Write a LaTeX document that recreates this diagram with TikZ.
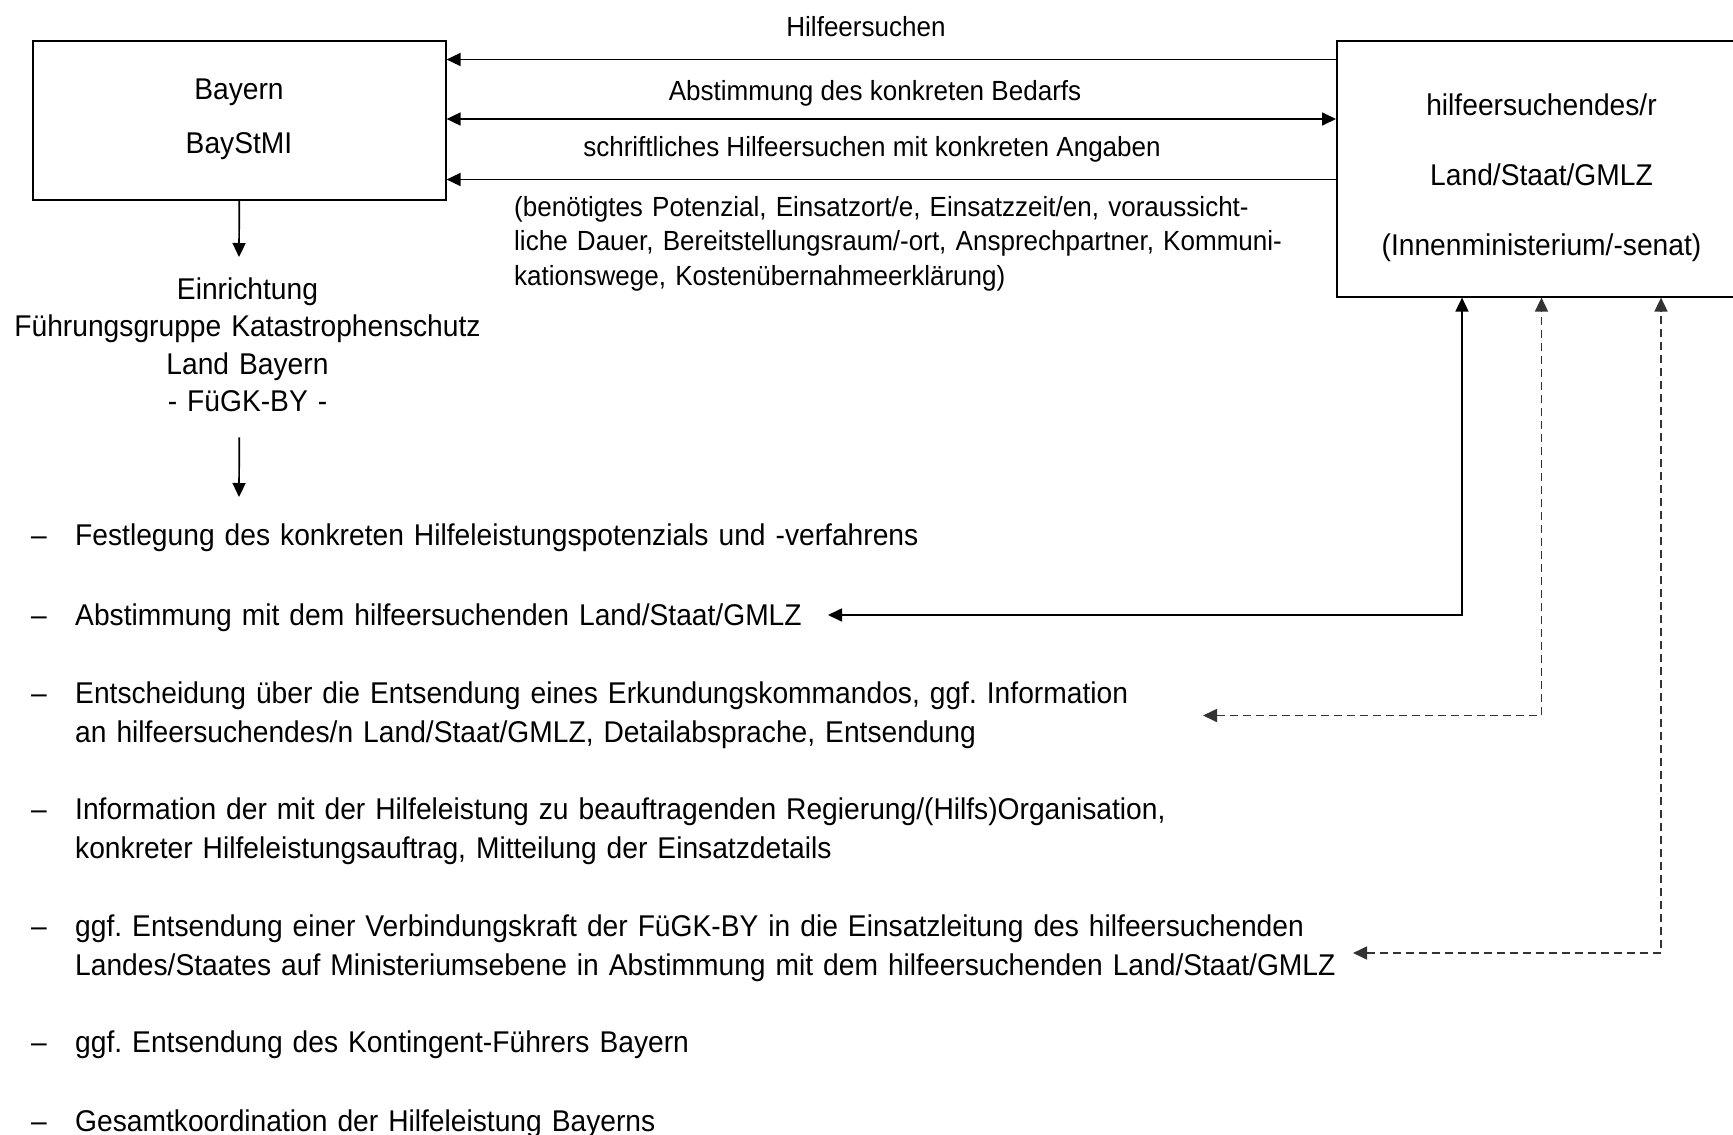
\documentclass[tikz,border=0pt]{standalone}
\usepackage{fontspec}
\setmainfont{Liberation Sans}[FakeStretch=0.94]
\usepackage{tikz}
\usetikzlibrary{arrows.meta}
\tikzset{
	>={Triangle[length=14pt,width=13pt]},
	rectnode/.style={rectangle, draw, line width=1.6pt, inner sep=0pt, anchor=north west},
	boxtext/.style={font=\fontsize{30}{70}\selectfont, text width=420pt, align=center, inner sep=0pt, anchor=base}
}
\tikzset{
	msgnode/.style={font=\fontsize{27.7}{34.5}\selectfont, inner sep=0pt, anchor=base},
	itemnode/.style={font=\fontsize{30}{38.5}\selectfont, text width=1400pt, align=left, inner sep=0pt, anchor=base west},
	dashnode/.style={font=\fontsize{30}{38.5}\selectfont, inner sep=0pt, anchor=base west},
	flow/.style={->, line width=1.7pt},
	mydashed/.style={dash pattern=on 8pt off 5pt}
}

\begin{document}
\frenchspacing
\begin{tikzpicture}[x=1pt, y=-1pt]
		\path[use as bounding box, fill=white] (0,0) rectangle (1733,1135);

		\node[rectnode, minimum width=413pt, minimum height=159pt] at (32,40) (bayern) {};
		\node[rectnode, minimum width=415pt, minimum height=256pt] at (1336,40) (land) {};
		\node[boxtext, font=\fontsize{30}{54}\selectfont] at (239,99.3) (bayerntxt) {Bayern\\BayStMI};
		\node[boxtext] at (1541.5,115) (landtxt) {hilfeersuchendes/r\\Land/Staat/GMLZ\\(Innenministerium/-senat)};
		\node[boxtext, font=\fontsize{30}{37.5}\selectfont, text width=480pt] at (247.5,299.3) (fuegk) {Einrichtung\\Führungsgruppe Katastrophenschutz\\Land Bayern\\- FüGK-BY -};

		\node[msgnode] at (866,36.7) (m1) {Hilfeersuchen};
		\node[msgnode] at (875,100) (m2) {Abstimmung des konkreten Bedarfs};
		\node[msgnode] at (872,156.7) (m3) {schriftliches Hilfeersuchen mit konkreten Angaben};
		\node[msgnode, anchor=base west, text width=800pt, align=left] at (514,216) (m4) {(benötigtes Potenzial, Einsatzort/e, Einsatzzeit/en, voraussicht-\\liche Dauer, Bereitstellungsraum/-ort, Ansprechpartner, Kommuni-\\kationswege, Kostenübernahmeerklärung)};

		%Liste
		\node[dashnode] at (31,545.7) (d1) {–};
		\node[itemnode] at (75,545.7) (i1) {Festlegung des konkreten Hilfeleistungspotenzials und -verfahrens};
		\node[dashnode] at (31,625.2) (d2) {–};
		\node[itemnode] at (75,625.2) (i2) {Abstimmung mit dem hilfeersuchenden Land/Staat/GMLZ};
		\node[dashnode] at (31,703.7) (d3) {–};
		\node[itemnode] at (75,703.7) (i3) {Entscheidung über die Entsendung eines Erkundungskommandos, ggf. Information\\an hilfeersuchendes/n Land/Staat/GMLZ, Detailabsprache, Entsendung};
		\node[dashnode] at (31,819.7) (d4) {–};
		\node[itemnode] at (75,819.7) (i4) {Information der mit der Hilfeleistung zu beauftragenden Regierung/(Hilfs)Organisation,\\konkreter Hilfeleistungsauftrag, Mitteilung der Einsatzdetails};
		\node[dashnode] at (31,936.7) (d5) {–};
		\node[itemnode] at (75,936.7) (i5) {ggf. Entsendung einer Verbindungskraft der FüGK-BY in die Einsatzleitung des hilfeersuchenden\\Landes/Staates auf Ministeriumsebene in Abstimmung mit dem hilfeersuchenden Land/Staat/GMLZ};
		\node[dashnode] at (31,1052.7) (d6) {–};
		\node[itemnode] at (75,1052.7) (i6) {ggf. Entsendung des Kontingent-Führers Bayern};
		\node[dashnode] at (31,1131.4) (d7) {–};
		\node[itemnode] at (75,1131.4) (i7) {Gesamtkoordination der Hilfeleistung Bayerns};

		\coordinate (f1) at (239,257);
		\coordinate (f2) at (239,497);
		\coordinate (e2) at (828,615);
		\coordinate (e3) at (1203,715.5);
		\coordinate (e5) at (1353,953);

		%Lines
		\draw[flow] ([yshift=-19.5pt]land.north west) -- ([yshift=-19.5pt]bayern.north east);
		\draw[flow, <->] ([yshift=-79pt]bayern.north east) -- ([yshift=-79pt]land.north west);
		\draw[flow] ([yshift=-139.5pt]land.north west) -- ([yshift=-139.5pt]bayern.north east);
		\draw[flow] (bayern.south) -- (f1);
		\draw[flow] ([yshift=-25pt]bayern.south |- fuegk.south) -- (f2);

		\draw[flow, <->] (e2) -| ([xshift=126pt]land.south west);
		\draw[flow, <->, mydashed, black!80] (e3) -| ([xshift=205.5pt]land.south west);
		\draw[flow, <->, mydashed, black!80] (e5) -| ([xshift=325pt]land.south west);
\end{tikzpicture}
\end{document}
